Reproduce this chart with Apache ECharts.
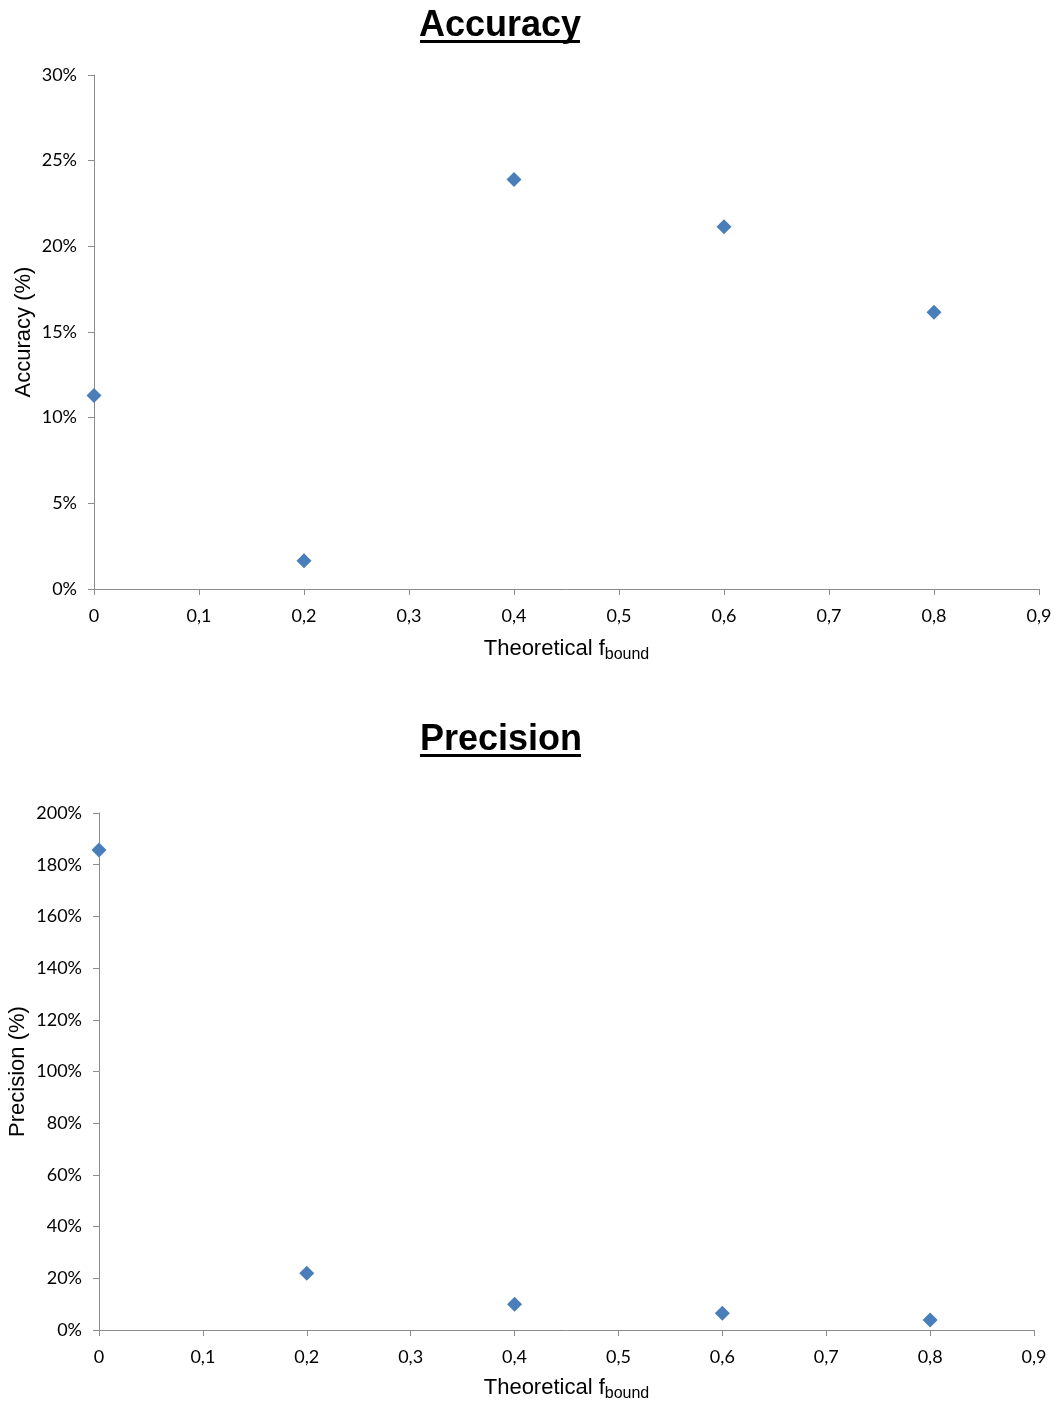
<!DOCTYPE html>
<html><head><meta charset="utf-8">
<script src="https://cdn.jsdelivr.net/npm/echarts@6/dist/echarts.min.js"></script>
<style>html,body{margin:0;padding:0;background:#fff}#c{width:1056px;height:1401px}</style>
</head><body><div id="c"></div>
<script>
const fbound = [0, 0.2, 0.4, 0.6, 0.8];
const accuracy = [11.3, 1.65, 23.9, 21.15, 16.15];
const precision = [185.7, 22.0, 10.0, 6.5, 3.9];
const xTicks = [0, 0.1, 0.2, 0.3, 0.4, 0.5, 0.6, 0.7, 0.8, 0.9];

const chart = echarts.init(document.getElementById('c'), null, {renderer: 'canvas'});
const labelFont = 'Lato, "Open Sans", sans-serif';
const axisCol = '#8c8c8c';
function xAxis(gi, gap) {
  return {
    type: 'value', gridIndex: gi, min: 0, max: 0.9, interval: 0.1,
    axisLine: {show: true, lineStyle: {color: axisCol, width: 1}},
    axisTick: {show: true, length: 6, lineStyle: {color: axisCol}},
    splitLine: {show: false},
    axisLabel: {margin: 18, fontSize: 18, color: '#000', fontFamily: labelFont,
      formatter: v => String(Math.round(v * 10) / 10).replace('.', ',')},
    name: '{a|Theoretical f}{b|bound}', nameLocation: 'middle', nameGap: gap,
    nameTextStyle: {rich: {
      a: {fontSize: 22, fontFamily: 'Liberation Sans, Arial', color: '#000'},
      b: {fontSize: 16, fontFamily: 'Liberation Sans, Arial', color: '#000', padding: [12, 0, 0, 0], verticalAlign: 'bottom'}
    }}
  };
}
function yAxis(gi, max, interval, name, gap) {
  return {
    type: 'value', gridIndex: gi, min: 0, max: max, interval: interval,
    axisLine: {show: true, lineStyle: {color: axisCol, width: 1}},
    axisTick: {show: true, length: 6, lineStyle: {color: axisCol}},
    splitLine: {show: false},
    axisLabel: {margin: 17, fontSize: 18, color: '#000', fontFamily: labelFont, formatter: v => v + '%'},
    name: name, nameLocation: 'middle', nameGap: gap, nameRotate: 90, nameMoveOverlap: false,
    nameTextStyle: {fontSize: 22, fontFamily: 'Liberation Sans, Arial', color: '#000'}
  };
}
const marker = {symbol: 'diamond', symbolSize: 15, itemStyle: {color: '#4a7ebb', opacity: 1}};
chart.setOption({
  animation: false,
  backgroundColor: '#fff',
  title: [
    {text: 'Accuracy', left: 495, top: 3, textAlign: 'center',
      textStyle: {fontSize: 36, fontWeight: 'bold', fontFamily: 'Liberation Sans, Arial', color: '#000'}},
    {text: 'Precision', left: 496, top: 717, textAlign: 'center',
      textStyle: {fontSize: 36, fontWeight: 'bold', fontFamily: 'Liberation Sans, Arial', color: '#000'}}
  ],
  graphic: [
    {type: 'rect', shape: {x: 420, y: 40, width: 160, height: 3}, style: {fill: '#000'}},
    {type: 'rect', shape: {x: 420, y: 754, width: 161, height: 3}, style: {fill: '#000'}}
  ],
  grid: [
    {left: 94, right: 17, top: 75, height: 514, outerBoundsMode: 'none', containLabel: false},
    {left: 99, right: 22, top: 813, height: 517, outerBoundsMode: 'none', containLabel: false}
  ],
  xAxis: [xAxis(0, 46), xAxis(1, 44)],
  yAxis: [yAxis(0, 30, 5, 'Accuracy (%)', 59), yAxis(1, 200, 20, 'Precision (%)', 70)],
  series: [
    Object.assign({type: 'scatter', xAxisIndex: 0, yAxisIndex: 0, data: fbound.map((x, i) => [x, accuracy[i]])}, marker),
    Object.assign({type: 'scatter', xAxisIndex: 1, yAxisIndex: 1, data: fbound.map((x, i) => [x, precision[i]])}, marker)
  ]
});
</script></body></html>
